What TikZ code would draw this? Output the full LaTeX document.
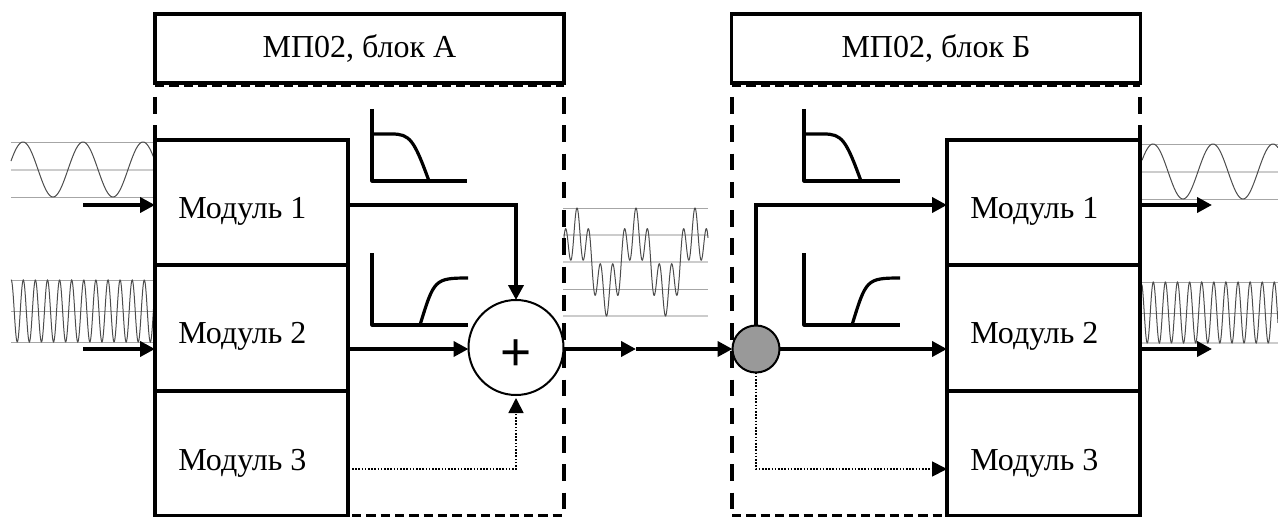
\documentclass[tikz,border=0pt]{standalone}
\usepackage{fontspec}
\usepackage{tikz}
\usetikzlibrary{arrows.meta}
\setmainfont{Liberation Serif}
\newfontfamily\plusfont{Liberation Sans}

\tikzset{
    blkbox/.style={draw,line width=2.9pt,minimum width=306.75pt,minimum height=51.75pt,inner sep=0pt,outer sep=0pt,font=\fontsize{24}{28}\selectfont},
    modbox/.style={draw,line width=2.9pt,minimum width=144.75pt,minimum height=93.75pt,inner sep=0pt,outer sep=0pt},
    modtxt/.style={anchor=base west,inner sep=0pt,font=\fontsize{24}{28}\selectfont},
    sig/.style={line width=2.8pt,line cap=butt,-{Triangle[length=11.25pt,width=11.25pt]}},
    dotsig/.style={line width=1.3pt,dash pattern=on 1.2pt off 1.2pt,-{Triangle[length=11.25pt,width=11.25pt]}},
    bound/.style={line width=3pt,dash pattern=on 12.4pt off 8.8pt},
    boundh/.style={line width=2.4pt,dash pattern=on 6.9pt off 3.85pt},
    grid1/.style={gray!70,line width=0.6pt},
    grid2/.style={gray!40,line width=1pt},
    wave/.style={black!70,line width=0.75pt},
    resp/.style={line width=2.4pt,line join=round}
}

\begin{document}
\begin{tikzpicture}[x=0.75pt,y=-0.75pt]
    \useasboundingbox (0,0) rectangle (1278,517);

    \draw[grid1] (11,142) -- (155,142);
    \draw[grid2] (11,170) -- (155,170);
    \draw[grid1] (11,197) -- (155,197);
    \draw[wave,domain=11:155,samples=150,variable=\x] plot ({\x},{169.5-27.5*cos((\x-23)/60*360)});

    \draw[grid1] (11,280) -- (155,280);
    \draw[grid1] (11,311) -- (155,311);
    \draw[grid1] (11,342) -- (155,342);
    \draw[wave,domain=11:155,samples=400,variable=\x] plot ({\x},{311-31*cos((\x-144.3)/12.1*360)});

    \draw[grid1] (563,208) -- (708,208);
    \draw[grid2] (563,235) -- (708,235);
    \draw[grid2] (563,262) -- (708,262);
    \draw[grid1] (563,289) -- (708,289);
    \draw[grid2] (563,316) -- (708,316);
    \draw[wave,domain=564:708,samples=500,variable=\x] plot ({\x},{262-31*cos((\x-577)/59*360)-23*cos((\x-577)/11.8*360)});

    \draw[grid1] (1142,144) -- (1278,144);
    \draw[grid2] (1142,172) -- (1278,172);
    \draw[grid1] (1142,199) -- (1278,199);
    \draw[wave,domain=1142:1278,samples=150,variable=\x] plot ({\x},{171.5-27.5*cos((\x-1153)/60*360)});

    \draw[grid1] (1142,282) -- (1278,282);
    \draw[grid1] (1142,313) -- (1278,313);
    \draw[grid2] (1142,343) -- (1278,343);
    \draw[wave,domain=1142:1278,samples=400,variable=\x] plot ({\x},{312.5-30.5*cos((\x-1153.3)/12.1*360)});

    \draw[bound] (155,97) -- (155,516);
    \draw[bound] (564,97) -- (564,516);
    \draw[bound] (732,97) -- (732,516);
    \draw[bound] (1140,97) -- (1140,516);
    \draw[boundh] (155,85.5) -- (564,85.5);
    \draw[boundh] (732,85.5) -- (1140,85.5);
    \draw[boundh] (352,515.5) -- (564,515.5);
    \draw[boundh] (732,515.5) -- (947,515.5);

    \node[blkbox] (blkA) at (359.5,48.5) {МП02, блок А};
    \node[blkbox] (blkB) at (936,48.5) {МП02, блок Б};

    \foreach \n/\yc/\yb in {1/202.5/218,2/328/343,3/453.5/470} {
        \node[modbox] (modA\n) at (251.5,\yc) {};
        \node[modbox] (modB\n) at (1043.5,\yc) {};
        \node[modtxt] (txtA\n) at (178,\yb) {Модуль \n};
        \node[modtxt] (txtB\n) at (970,\yb) {Модуль \n};
    }

    \draw[resp] (372,109) -- (372,181) -- (467,181);
    \draw[resp] (373,134) -- (392,134) .. controls (410,134) and (414,140) .. (429,181);
    \draw[resp] (372,253) -- (372,325) -- (468,325);
    \draw[resp] (420,325) .. controls (434,280) and (434,278) .. (468,278);
    \draw[resp] (804,109) -- (804,181) -- (900,181);
    \draw[resp] (805,134) -- (824,134) .. controls (842,134) and (846,140) .. (861,181);
    \draw[resp] (804,253) -- (804,325) -- (900,325);
    \draw[resp] (852,325) .. controls (866,280) and (866,278) .. (900,278);

    \node[draw,fill=white,circle,line width=1.5pt,minimum size=71.25pt,inner sep=0pt,outer sep=0pt] (sum) at (516,347.5) {};
    \node[inner sep=0pt,font=\plusfont\fontsize{40}{40}\selectfont] (plus) at (516,355.5) {+};
    \node[draw,fill=black!40,circle,line width=1.5pt,minimum size=35.25pt,inner sep=0pt,outer sep=0pt] (split) at (756,349) {};

    \coordinate (inA1) at (83,205);
    \coordinate (inA2) at (83,349);
    \coordinate (outB1) at (1212,205);
    \coordinate (outB2) at (1212,349);
    \coordinate (mid) at (636,349);

    \draw[sig] (inA1) -- (inA1 -| modA1.west);
    \draw[sig] (inA2) -- (inA2 -| modA2.west);
    \draw[sig] (inA1 -| modA1.east) -- (inA1 -| sum.north) -- (sum.north);
    \draw[sig] (inA2 -| modA2.east) -- (inA2 -| sum.west);
    \draw[dotsig] (modA3.east |- 0,469) ++(4,0) -- (sum.south |- 0,469) -- ([yshift=-2.25pt]sum.south);
    \draw[sig] (inA2 -| sum.east) -- (mid);
    \draw[sig] (mid) -- (split.west);
    \draw[sig] (split.north) -- (split.north |- outB1) -- (outB1 -| modB1.west);
    \draw[sig] (split.east) -- (split.east -| modB2.west);
    \draw[dotsig] (split.south) -- (split.south |- 0,469) -- (modB3.west |- 0,469);
    \draw[sig] (outB1 -| modB1.east) -- (outB1);
    \draw[sig] (outB2 -| modB2.east) -- (outB2);
\end{tikzpicture}
\end{document}
